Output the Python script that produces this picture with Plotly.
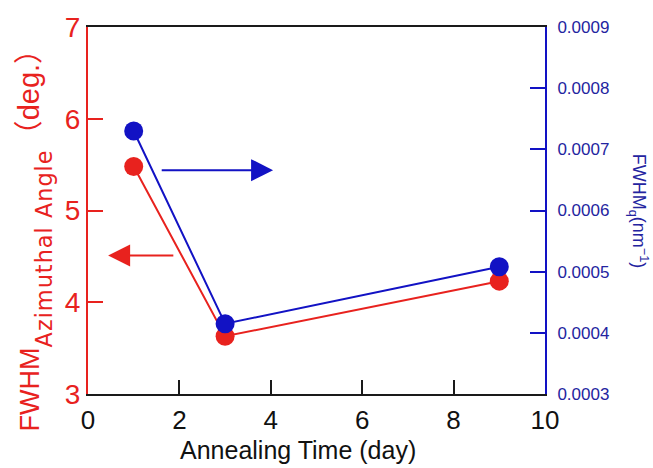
import plotly.graph_objects as go

# Data
time_day = [1, 3, 9]
fwhm_azimuthal = [5.48, 3.63, 4.23]
fwhm_q = [0.00073, 0.000415, 0.000508]

x_ticks = [0, 2, 4, 6, 8, 10]
y1_ticks = [3, 4, 5, 6, 7]
y2_ticks = [0.0003, 0.0004, 0.0005, 0.0006, 0.0007, 0.0008, 0.0009]
y2_ticklabels = ["0.0003", "0.0004", "0.0005", "0.0006", "0.0007", "0.0008", "0.0009"]

# Arrow positions (data coords on x / left y axis): [tail_x, tip_x, y]
arrow_blue = [1.58, 4.05, 5.44]
arrow_red = [1.9, 0.44, 4.51]

RED = "#e8221e"
BLUE = "#1212c4"
BLUE_TXT = "#2424a0"
FONT = "Liberation Sans, Arial, sans-serif"

fig = go.Figure()
fig.add_trace(go.Scatter(
    x=time_day, y=fwhm_azimuthal, mode="lines+markers",
    line=dict(color=RED, width=2),
    marker=dict(color=RED, size=19),
    yaxis="y", showlegend=False, cliponaxis=False))
fig.add_trace(go.Scatter(
    x=time_day, y=fwhm_q, mode="lines+markers",
    line=dict(color=BLUE, width=2),
    marker=dict(color=BLUE, size=19),
    yaxis="y2", showlegend=False, cliponaxis=False))

left_title = ("FWHM<span style='font-family:DejaVu Sans;font-size:32px;"
              "letter-spacing:1px'><sub><span style='baseline-shift:-6px'>"
              "Azimuthal Angle</span></sub></span>"
              "<span style='font-size:29px'>"
              "<span style='font-family:Noto Sans CJK JP'>（</span>deg."
              "<span style='font-family:Noto Sans CJK JP'>）</span></span>")

fig.update_layout(
    width=653, height=468,
    margin=dict(l=88, r=108, t=20, b=74),
    paper_bgcolor="white", plot_bgcolor="white",
    font=dict(family=FONT),
    xaxis=dict(
        range=[0, 10], tickvals=x_ticks, ticktext=[str(v) for v in x_ticks],
        showgrid=False, zeroline=False,
        showline=True, linecolor="#1a1a1a", linewidth=2, mirror=True,
        ticks="inside", ticklen=14, tickwidth=2, tickcolor="#1a1a1a",
        ticklabelstandoff=2,
        tickfont=dict(size=26, color="#111111", family=FONT),
    ),
    yaxis=dict(
        range=[3, 7], tickvals=y1_ticks, ticktext=[str(v) for v in y1_ticks],
        showgrid=False, zeroline=False,
        showline=True, linecolor=RED, linewidth=2,
        ticks="inside", ticklen=15, tickwidth=2, tickcolor=RED,
        tickfont=dict(size=28, color=RED, family=FONT),
    ),
    yaxis2=dict(
        range=[0.0003, 0.0009], tickvals=y2_ticks, ticktext=y2_ticklabels,
        overlaying="y", side="right", anchor="x",
        showgrid=False, zeroline=False,
        showline=True, linecolor=BLUE, linewidth=2,
        ticks="inside", ticklen=15, tickwidth=2, tickcolor=BLUE,
        ticklabelstandoff=7,
        tickfont=dict(size=17, color=BLUE_TXT, family=FONT),
    ),
    annotations=[
        dict(x=arrow_blue[1], y=arrow_blue[2], ax=arrow_blue[0], ay=arrow_blue[2],
             xref="x", yref="y", axref="x", ayref="y", text="",
             showarrow=True, arrowhead=2, arrowsize=2.2, arrowwidth=2,
             arrowcolor=BLUE, standoff=0),
        dict(x=arrow_red[1], y=arrow_red[2], ax=arrow_red[0], ay=arrow_red[2],
             xref="x", yref="y", axref="x", ayref="y", text="",
             showarrow=True, arrowhead=2, arrowsize=2.2, arrowwidth=2,
             arrowcolor=RED, standoff=0),
        dict(text=left_title,
             xref="paper", yref="paper", x=-0.125, y=0.44,
             xanchor="center", yanchor="middle", textangle=-90,
             showarrow=False, font=dict(size=27, color=RED, family=FONT)),
        dict(text="FWHM<sub>q</sub>(nm<sup>−1</sup>)",
             xref="paper", yref="paper", x=1.205, y=0.5,
             xanchor="center", yanchor="middle", textangle=90,
             showarrow=False, font=dict(size=18, color=BLUE_TXT, family=FONT)),
        dict(text="Annealing Time (day)",
             xref="paper", yref="paper", x=0.46, y=-0.153,
             xanchor="center", yanchor="middle",
             showarrow=False, font=dict(size=25, color="#111111", family=FONT)),
    ],
)

fig.write_html("out.html")
